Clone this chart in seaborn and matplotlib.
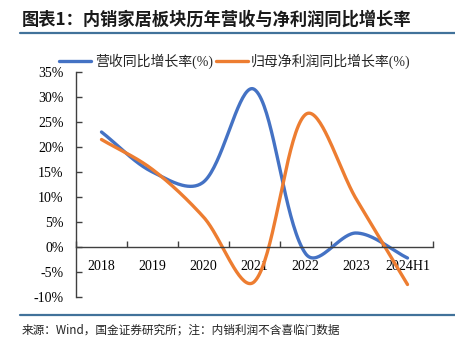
import numpy as np
import pandas as pd
import seaborn as sns
import matplotlib as mpl
import matplotlib.pyplot as plt
from matplotlib.lines import Line2D
from matplotlib.ticker import FixedLocator, FuncFormatter

sns.set_theme(style="white")
mpl.rcParams["font.family"] = ["Liberation Serif", "Noto Sans CJK SC"]
mpl.rcParams["axes.unicode_minus"] = False

years = ["2018", "2019", "2020", "2021", "2022", "2023", "2024H1"]
revenue = [23.0, 15.0, 13.0, 31.5, -1.3, 2.8, -2.2]
profit = [21.5, 15.5, 6.0, -6.9, 26.5, 9.5, -7.5]
series_names = ["营收同比增长率(%)", "归母净利润同比增长率(%)"]
colors = ["#4472C4", "#ED7D31"]

# screen scale (px per category, px per percent) used for the smoothing
SX, SY = 51.0, 5.0


def smooth(ys, n=40, a=0.5):
    # excel-like smoothed line: bezier, control arms weighted by chord length
    pts = np.column_stack([np.arange(len(ys)) * SX, np.asarray(ys, dtype=float) * SY])
    out = []
    for i in range(len(pts) - 1):
        p0 = pts[max(i - 1, 0)]
        p1 = pts[i]
        p2 = pts[i + 1]
        p3 = pts[min(i + 2, len(pts) - 1)]
        d01 = np.hypot(*(p1 - p0)) ** a
        d12 = np.hypot(*(p2 - p1)) ** a
        d23 = np.hypot(*(p3 - p2)) ** a
        f1 = d12 / (3 * (d01 + d12))
        f2 = d12 / (3 * (d12 + d23))
        c1 = p1 + (p2 - p0) * f1
        c2 = p2 - (p3 - p1) * f2
        t = np.linspace(0, 1, n)[:, None]
        seg = ((1 - t) ** 3) * p1 + 3 * ((1 - t) ** 2) * t * c1 + 3 * (1 - t) * t**2 * c2 + t**3 * p2
        out.append(seg if i == 0 else seg[1:])
    out = np.vstack(out)
    return out[:, 0] / SX, out[:, 1] / SY


frames = []
for name, vals in zip(series_names, [revenue, profit]):
    cx, cy = smooth(vals)
    frames.append(pd.DataFrame({"x": cx, "y": cy, "series": name}))
df = pd.concat(frames, ignore_index=True)

fig = plt.figure(figsize=(4.55, 3.51), dpi=100)
ax = fig.add_axes([76 / 455, 54 / 351, 357 / 455, 225 / 351])

sns.lineplot(
    data=df, x="x", y="y", hue="series", units="series", estimator=None,
    sort=False, palette=colors, linewidth=2.4, ax=ax, legend=False,
)

ax.set_xlim(-0.5, len(years) - 0.5)
ax.set_ylim(-10, 35)
ax.set_xlabel("")
ax.set_ylabel("")

for s in ["top", "right"]:
    ax.spines[s].set_visible(False)
for s in ["left", "bottom"]:
    ax.spines[s].set_color("#404040")
    ax.spines[s].set_linewidth(1.0)
ax.spines["bottom"].set_position(("data", 0))

ax.xaxis.set_major_locator(FixedLocator(range(len(years))))
ax.set_xticklabels(years)
ax.xaxis.set_minor_locator(FixedLocator(np.arange(len(years) + 1) - 0.5))
ax.tick_params(axis="x", which="major", length=0, pad=9, labelsize=10, colors="black")
ax.tick_params(axis="x", which="minor", bottom=True, direction="in", length=4, width=1, color="#404040")

ax.set_yticks(np.arange(-10, 36, 5))
ax.yaxis.set_major_formatter(FuncFormatter(lambda v, p: f"{v:.0f}%"))
ax.tick_params(axis="y", left=True, direction="in", length=4, width=1, color="#404040", pad=9, labelsize=10, labelcolor="black")
ax.grid(False)

handles = [Line2D([], [], color=c, linewidth=2.4) for c in colors]
fig.legend(
    handles, series_names, loc="center", bbox_to_anchor=(235 / 455, 1 - 61 / 351),
    ncol=2, frameon=False, fontsize=10, handlelength=2.3, handletextpad=0.25,
    columnspacing=0.2,
)

fig.text(22 / 455, 1 - 20 / 351, "图表1：内销家居板块历年营收与净利润同比增长率",
         fontsize=12.4, fontweight="bold", style="italic", color="#1a1a1a",
         family=["Noto Sans CJK SC", "DejaVu Sans"], va="center", ha="left")
fig.add_artist(Line2D([20 / 455, 1.0], [1 - 33 / 351] * 2, transform=fig.transFigure, color="#41729A", linewidth=1.6))
fig.add_artist(Line2D([20 / 455, 1.0], [1 - 315 / 351] * 2, transform=fig.transFigure, color="#41729A", linewidth=1.6))
fig.text(22 / 455, 1 - 330 / 351, "来源：Wind，国金证券研究所；注：内销利润不含喜临门数据",
         fontsize=8.4, color="#222222", family=["Noto Sans CJK SC", "DejaVu Sans"], va="center", ha="left")

fig.savefig("out.png", dpi=100)
